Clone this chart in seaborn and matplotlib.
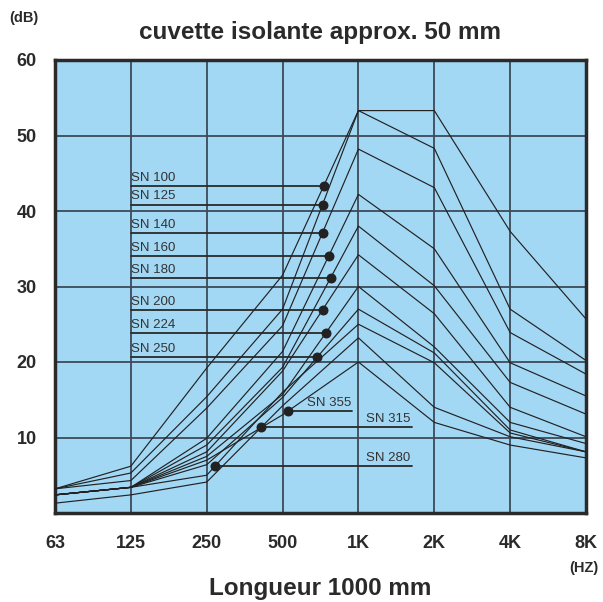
import numpy as np
import pandas as pd
import seaborn as sns
import matplotlib.pyplot as plt

freq_labels = ["63", "125", "250", "500", "1K", "2K", "4K", "8K"]
y_ticks = [10, 20, 30, 40, 50, 60]

sn100 = [3.2, 6.2, 19.2, 31.5, 53.3, 53.3, 37.3, 25.7]
sn125 = [3.2, 5.3, 15.4, 27.0, 53.3, 48.3, 27.0, 20.2]
sn140 = [3.2, 4.3, 13.9, 24.8, 48.2, 43.1, 23.9, 18.4]
sn160 = [2.4, 3.4, 9.9, 21.4, 42.2, 35.0, 19.9, 15.5]
sn180 = [2.4, 3.4, 9.0, 19.3, 38.0, 30.1, 17.3, 13.1]
sn200 = [2.4, 3.4, 8.1, 18.8, 34.2, 26.4, 14.0, 10.1]
sn224 = [2.4, 3.4, 7.5, 15.7, 30.0, 22.0, 12.0, 9.2]
sn250 = [2.4, 3.4, 6.4, 15.3, 27.0, 21.2, 11.0, 8.1]
sn280 = [2.4, 3.4, 5.0, 16.0, 25.0, 19.9, 10.6, 8.1]
sn315 = [1.3, 2.4, 4.1, 14.2, 23.2, 14.0, 10.1, 8.1]
sn355 = [2.4, 3.4, 7.0, 13.0, 20.0, 12.0, 9.0, 7.3]

series = {
    "SN 100": sn100, "SN 125": sn125, "SN 140": sn140, "SN 160": sn160,
    "SN 180": sn180, "SN 200": sn200, "SN 224": sn224, "SN 250": sn250,
    "SN 280": sn280, "SN 315": sn315, "SN 355": sn355,
}

# label placement: (dot x position, leader end x, side)
label_pos = {
    "SN 100": (3.54, 1.0, "left"), "SN 125": (3.527, 1.0, "left"),
    "SN 140": (3.527, 1.0, "left"), "SN 160": (3.607, 1.0, "left"),
    "SN 180": (3.633, 1.0, "left"), "SN 200": (3.527, 1.0, "left"),
    "SN 224": (3.567, 1.0, "left"), "SN 250": (3.46, 1.0, "left"),
    "SN 355": (3.065, 3.92, "right"), "SN 315": (2.72, 4.70, "right"),
    "SN 280": (2.11, 4.70, "right"),
}

rows = []
for name, vals in series.items():
    for i, v in enumerate(vals):
        rows.append({"series": name, "x": i, "dB": v})
df = pd.DataFrame(rows)

sns.set_theme(style="white")
plt.rcParams["font.family"] = ["Liberation Sans", "DejaVu Sans"]

fig = plt.figure(figsize=(6.03, 6.02), dpi=100)
ax = fig.add_axes([55 / 603, 1 - 513 / 602, 531 / 603, 453 / 602])
ax.set_facecolor("#a3d8f5")

for x in range(1, 7):
    ax.axvline(x, color="#3c4a58", lw=1.3, zorder=1)
for y in y_ticks[:-1]:
    ax.axhline(y, color="#3c4a58", lw=1.3, zorder=1)

sns.lineplot(data=df, x="x", y="dB", hue="series", units="series",
             estimator=None, sort=False, palette=["#222222"] * len(series),
             lw=0.85, legend=False, ax=ax, zorder=3)

for name, (dx, lx, side) in label_pos.items():
    vals = series[name]
    dy = float(np.interp(dx, np.arange(len(vals)), vals))
    ax.plot([lx, dx], [dy, dy], color="#2a2a2a", lw=1.3, zorder=2)
    ax.scatter([dx], [dy], s=38, color="#222222", zorder=5)
    if side == "left":
        ax.annotate(name, (lx, dy), xytext=(0, 1.5), textcoords="offset points",
                    ha="left", va="bottom", fontsize=9.5, color="#333333")
    else:
        ax.annotate(name, (lx, dy), xytext=(-1, 1.5), textcoords="offset points",
                    ha="right", va="bottom", fontsize=9.5, color="#333333")

ax.set_xlim(0, 7)
ax.set_ylim(0, 60)
ax.set_xticks(range(len(freq_labels)))
ax.set_xticklabels(freq_labels, fontsize=13, fontweight="bold", color="#2a2a2a")
ax.set_yticks(y_ticks)
ax.set_yticklabels([str(t) for t in y_ticks], fontsize=13, fontweight="bold", color="#2a2a2a")
ax.tick_params(axis="x", length=0, pad=16)
ax.tick_params(axis="y", length=0, pad=13)
ax.set_xlabel("")
ax.set_ylabel("")
for s in ax.spines.values():
    s.set_visible(True)
    s.set_color("#2a2a2a")
    s.set_linewidth(2.5)

fig.text(320 / 603, 1 - 33 / 602, "cuvette isolante approx. 50 mm", ha="center", va="center",
         fontsize=17.5, fontweight="bold", color="#2a2a2a")
fig.text(24 / 603, 1 - 18 / 602, "(dB)", ha="center", va="center",
         fontsize=10.5, fontweight="bold", color="#2a2a2a")
fig.text(584 / 603, 1 - 568 / 602, "(HZ)", ha="center", va="center",
         fontsize=10.5, fontweight="bold", color="#2a2a2a")
fig.text(320 / 603, 1 - 588 / 602, "Longueur 1000 mm", ha="center", va="center",
         fontsize=17.5, fontweight="bold", color="#2a2a2a")

fig.savefig("out.png", dpi=100, facecolor="white")
